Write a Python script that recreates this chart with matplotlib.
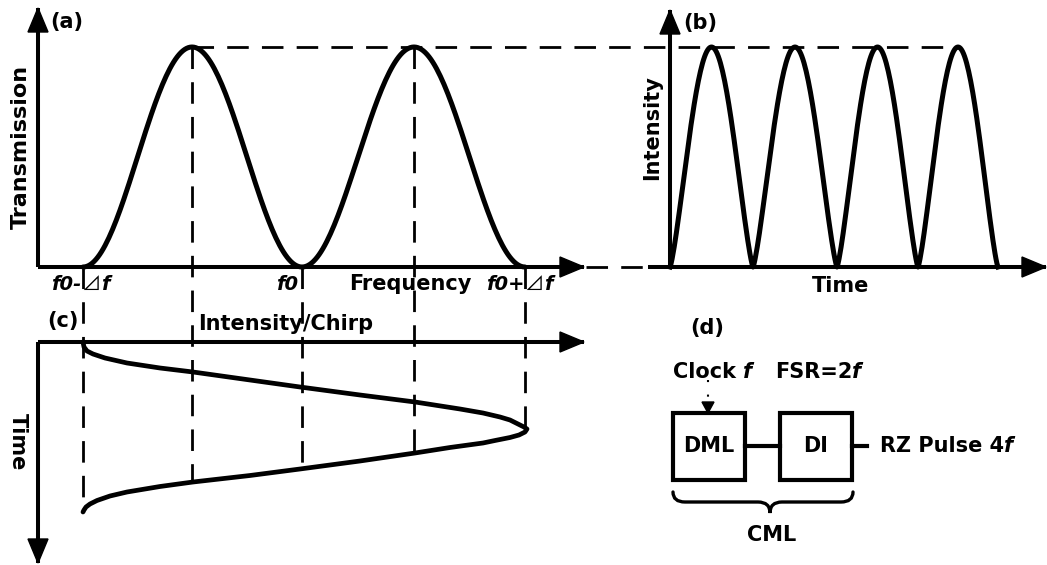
import numpy as np
import matplotlib

matplotlib.use("Agg")
import matplotlib.pyplot as plt
from matplotlib.patches import Polygon, Rectangle, PathPatch
from matplotlib.path import Path

# --- anchors (pixel coordinates, y down) ---
# (a) DI transmission: null / peak positions along the frequency axis
trans_nulls_x = [83, 302, 525]
trans_peaks_x = [192, 414]
trans_top_y = 47
trans_base_y = 267

# (b) RZ pulse train: zero crossings along the time axis
pulse_zeros_x = [670, 753, 837, 918, 998]
pulse_top_y = 47
pulse_base_y = 267

# (c) intensity/chirp trace, upper and lower branch
chirp_upper_x = [83, 84, 87, 93, 105, 127, 160, 193, 250, 300, 360, 415, 460, 483,
                 500, 510, 518, 524, 527]
chirp_upper_y = [342, 347, 351, 354, 358, 363, 368, 372, 380, 387, 395, 402, 409, 413,
                 417, 420, 424, 427, 429]
chirp_lower_x = [527, 525, 519, 510, 495, 483, 450, 415, 360, 300, 250, 193, 160, 127,
                 110, 97, 90, 86, 84, 83]
chirp_lower_y = [429, 432, 435, 437.5, 440.5, 443, 447.5, 453, 461, 469, 475.5, 482, 486.5, 492,
                 496, 500.5, 504, 507, 510, 512]

# dashed guide lines dropping from (a) into (c): x, y start, y end
guide_x = [83, 192, 302, 414, 525]
guide_y0 = [267, 47, 267, 47, 267]
guide_y1 = [512, 482, 469, 453, 429]

FS = 15
CJK = ["Noto Sans CJK SC", "DejaVu Sans"]
plt.rcParams["font.family"] = ["DejaVu Sans", "Noto Sans CJK SC"]
plt.rcParams["font.weight"] = "bold"
plt.rcParams["lines.scale_dashes"] = False

DASH = (0, (15.5, 9.5))
LW_AX = 2.9
LW_CURVE = 3.6

fig = plt.figure(figsize=(10.47, 5.65), dpi=100)
ax = fig.add_axes([0, 0, 1, 1])
ax.set_xlim(0, 1047)
ax.set_ylim(565, 0)
ax.axis("off")
renderer = fig.canvas.get_renderer()


def arrowhead(tip, direction, length=24, half=10):
    tx, ty = tip
    dx, dy = direction
    bx, by = tx - dx * length, ty - dy * length
    px, py = -dy * half, dx * half
    ax.add_patch(Polygon([(tx, ty), (bx + px, by + py), (bx - px, by - py)],
                         closed=True, color="black", zorder=5))


def axis_line(x0, y0, x1, y1, direction):
    ax.plot([x0, x1], [y0, y1], color="black", lw=LW_AX, solid_capstyle="butt", zorder=4)
    arrowhead((x1, y1), direction)


def text_run(x, y, pieces, size=FS):
    # consecutive pieces on one baseline, each with its own style
    for s, kw in pieces:
        style = dict(fontsize=size, fontweight="bold", color="black")
        style.update(kw)
        t = ax.text(x, y, s, ha="left", va="baseline", **style)
        bb = t.get_window_extent(renderer)
        x = ax.transData.inverted().transform((bb.x1, bb.y0))[0]


# ---------------- (a) transmission ----------------
axis_line(38, 267, 38, 8, (0, -1))
axis_line(38, 267, 584, 267, (1, 0))

xs, ys = [], []
edges = sorted(trans_nulls_x + trans_peaks_x)
for i in range(len(edges) - 1):
    x0, x1 = edges[i], edges[i + 1]
    t = np.linspace(0, 1, 60)
    seg = (1 - np.cos(np.pi * t)) / 2
    if edges[i] in trans_peaks_x:
        seg = 1 - seg
    xs.extend(x0 + (x1 - x0) * t)
    ys.extend(trans_base_y - (trans_base_y - trans_top_y) * seg)
ax.plot(xs, ys, color="black", lw=LW_CURVE, solid_capstyle="round", zorder=6)

# ---------------- (b) pulses ----------------
axis_line(670, 267, 670, 10, (0, -1))
axis_line(648, 267, 1046, 267, (1, 0))

xs, ys = [], []
for i in range(len(pulse_zeros_x) - 1):
    x0, x1 = pulse_zeros_x[i], pulse_zeros_x[i + 1]
    t = np.linspace(0, 1, 80)
    xs.extend(x0 + (x1 - x0) * t)
    ys.extend(pulse_base_y - (pulse_base_y - pulse_top_y) * np.sin(np.pi * t) ** 1.3)
ax.plot(xs, ys, color="black", lw=LW_CURVE, solid_joinstyle="round", zorder=6)

# ---------------- dashed guides ----------------
peak_b = [(pulse_zeros_x[i] + pulse_zeros_x[i + 1]) / 2 for i in range(len(pulse_zeros_x) - 1)]
ax.plot([trans_peaks_x[0], peak_b[-1]], [trans_top_y, trans_top_y], color="black", lw=2, linestyle=DASH, zorder=3)
ax.plot([586, 670], [267, 267], color="black", lw=2, linestyle=DASH, zorder=3)
for gx, gy0, gy1 in zip(guide_x, guide_y0, guide_y1):
    ax.plot([gx, gx], [gy0, gy1], color="black", lw=2, linestyle=DASH, zorder=3)

# ---------------- (c) intensity / chirp ----------------
axis_line(38, 342, 584, 342, (1, 0))
axis_line(38, 342, 38, 563, (0, 1))
ax.plot(chirp_upper_x + chirp_lower_x, chirp_upper_y + chirp_lower_y, color="black",
        lw=3.4, solid_capstyle="round", solid_joinstyle="round", zorder=6)

# ---------------- (d) CML block diagram ----------------
ax.add_patch(Rectangle((673, 413), 72, 67, fill=False, lw=3, ec="black"))
ax.add_patch(Rectangle((780, 413), 72, 67, fill=False, lw=3, ec="black"))
ax.plot([745, 780], [446, 446], color="black", lw=3)
ax.plot([852, 867], [446, 446], color="black", lw=3)
ax.plot([708, 708], [380, 403], color="black", lw=1.5, linestyle=(0, (1.5, 9)))
ax.add_patch(Polygon([(708, 413), (702, 402), (714, 402)], closed=True, color="black"))

brace = Path(
    [(673, 492), (673, 502), (685, 502), (758, 502), (770, 502), (770, 513),
     (770, 502), (782, 502), (841, 502), (853, 502), (853, 492)],
    [Path.MOVETO, Path.CURVE3, Path.CURVE3, Path.LINETO, Path.CURVE3, Path.CURVE3,
     Path.CURVE3, Path.CURVE3, Path.LINETO, Path.CURVE3, Path.CURVE3],
)
ax.add_patch(PathPatch(brace, fill=False, lw=2.4, ec="black", capstyle="round"))

# ---------------- text ----------------
txt = dict(fontsize=FS, fontweight="bold", color="black")
ax.text(67, 22, "(a)", ha="center", va="center", **txt)
ax.text(21, 147, "Transmission", rotation=90, ha="center", va="center",
        fontsize=16, fontweight="bold")
ital = dict(style="italic")
tri = dict(family=CJK, fontweight="normal")
text_run(51, 290, [("f0-", ital), ("⊿", tri), ("f", ital)], size=14)
ax.text(287, 290, "f0", ha="center", va="baseline", style="italic", fontsize=14, fontweight="bold")
ax.text(410, 290, "Frequency", ha="center", va="baseline", **txt)
text_run(486, 290, [("f0+", ital), ("⊿", tri), ("f", ital)], size=14)

ax.text(700, 23, "(b)", ha="center", va="center", **txt)
ax.text(652, 128, "Intensity", rotation=90, ha="center", va="center", **txt)
ax.text(841, 292, "Time", ha="center", va="baseline", **txt)

ax.text(63, 321, "(c)", ha="center", va="center", **txt)
ax.text(286, 330, "Intensity/Chirp", ha="center", va="baseline", **txt)
ax.text(18, 442, "Time", rotation=270, ha="center", va="center", **txt)

ax.text(707, 328, "(d)", ha="center", va="center", **txt)
text_run(673, 378, [("Clock ", {}), ("f", ital)])
text_run(775, 378, [("FSR=2", {}), ("f", ital)])
text_run(880, 452, [("RZ Pulse 4", {}), ("f", ital)])
ax.text(709, 446, "DML", ha="center", va="center", **txt)
ax.text(816, 446, "DI", ha="center", va="center", **txt)
ax.text(772, 535, "CML", ha="center", va="center", **txt)

fig.savefig("out.png", dpi=100)
